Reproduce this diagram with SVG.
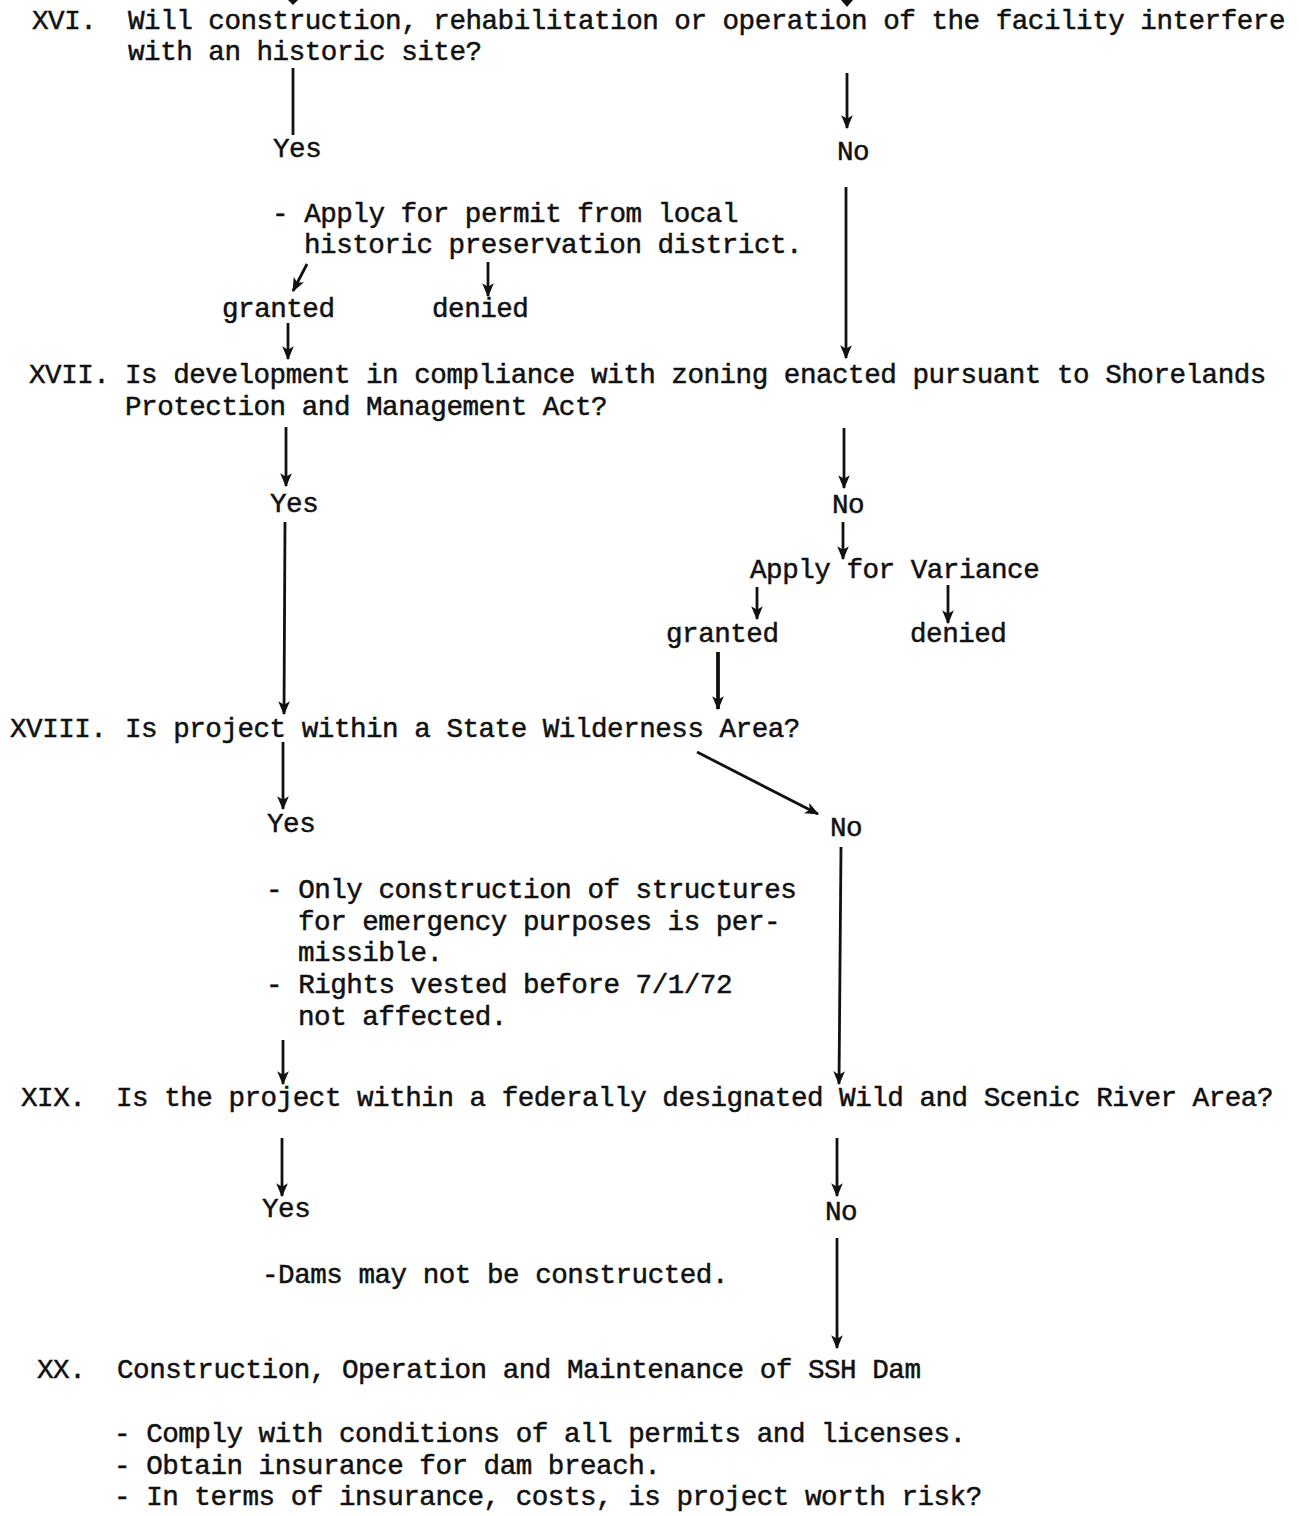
<svg xmlns="http://www.w3.org/2000/svg" width="1299" height="1516" viewBox="0 0 1299 1516">
<style>
text{font-family:"Liberation Mono","Courier New",monospace;font-size:27.6px;letter-spacing:-0.49px;fill:#111;stroke:#111;stroke-width:0.5px;white-space:pre}
.c{fill:none;stroke:#111;stroke-width:2.8px}
.ca{fill:none;stroke:#111;stroke-width:2.8px;marker-end:url(#ah)}
.cb{fill:none;stroke:#111;stroke-width:3.8px;marker-end:url(#ah)}
</style>
<defs>
<marker id="ah" viewBox="0 0 12 10" refX="11" refY="5" markerWidth="14" markerHeight="12" orient="auto" markerUnits="userSpaceOnUse">
<path d="M0,0 L12,5 L0,10 L3,5 z" fill="#111"/>
</marker>
</defs>
<rect width="1299" height="1516" fill="#fff"/>

<g id="connectors">
<polygon points="288,0 298,0 293,5" fill="#111"/>
<polygon points="841,0 853,0 847,7" fill="#111"/>
<line class="c" x1="293" y1="68" x2="293" y2="135"/>
<line class="ca" x1="847" y1="73" x2="847" y2="128"/>
<line class="ca" x1="846" y1="187" x2="846" y2="358"/>
<line class="ca" x1="307" y1="264" x2="293" y2="291"/>
<line class="ca" x1="488" y1="262" x2="488" y2="296"/>
<line class="ca" x1="288" y1="323" x2="288" y2="359"/>
<line class="ca" x1="286" y1="427" x2="286" y2="486"/>
<line class="ca" x1="844" y1="428" x2="844" y2="488"/>
<line class="ca" x1="285" y1="522" x2="284" y2="714"/>
<line class="ca" x1="843" y1="522" x2="843" y2="559"/>
<line class="ca" x1="757" y1="587" x2="757" y2="619"/>
<line class="ca" x1="948" y1="585" x2="948" y2="623"/>
<line class="cb" x1="718" y1="652" x2="718" y2="709"/>
<line class="ca" x1="283" y1="742" x2="283" y2="809"/>
<line class="ca" x1="697" y1="752" x2="818" y2="814"/>
<line class="ca" x1="841" y1="847" x2="839" y2="1084"/>
<line class="ca" x1="283" y1="1040" x2="283" y2="1084"/>
<line class="ca" x1="282" y1="1138" x2="282" y2="1196"/>
<line class="ca" x1="837" y1="1138" x2="837" y2="1196"/>
<line class="ca" x1="837" y1="1238" x2="837" y2="1348"/>
</g>

<g id="q16">
<text x="32" y="29">XVI.</text>
<text x="128" y="29">Will construction, rehabilitation or operation of the facility interfere</text>
<text x="128" y="60">with an historic site?</text>
</g>
<g id="q16-yes"><text x="273" y="157">Yes</text></g>
<g id="q16-no"><text x="837" y="160">No</text></g>
<g id="q16-permit">
<text x="272" y="222">- Apply for permit from local</text>
<text x="304" y="253">historic preservation district.</text>
</g>
<g id="q16-granted"><text x="222" y="317">granted</text></g>
<g id="q16-denied"><text x="432" y="317">denied</text></g>

<g id="q17">
<text x="29" y="383">XVII.</text>
<text x="125" y="383">Is development in compliance with zoning enacted pursuant to Shorelands</text>
<text x="125" y="415">Protection and Management Act?</text>
</g>
<g id="q17-yes"><text x="270" y="512">Yes</text></g>
<g id="q17-no"><text x="832" y="513">No</text></g>
<g id="q17-variance"><text x="750" y="578">Apply for Variance</text></g>
<g id="q17-granted"><text x="666" y="642">granted</text></g>
<g id="q17-denied"><text x="910" y="642">denied</text></g>

<g id="q18">
<text x="10" y="737">XVIII.</text>
<text x="125" y="737">Is project within a State Wilderness Area?</text>
</g>
<g id="q18-yes"><text x="267" y="832">Yes</text></g>
<g id="q18-no"><text x="830" y="836">No</text></g>
<g id="q18-notes">
<text x="266" y="898">- Only construction of structures</text>
<text x="298" y="930">for emergency purposes is per-</text>
<text x="298" y="961">missible.</text>
<text x="266" y="993">- Rights vested before 7/1/72</text>
<text x="298" y="1025">not affected.</text>
</g>

<g id="q19">
<text x="21" y="1106">XIX.</text>
<text x="116" y="1106">Is the project within a federally designated Wild and Scenic River Area?</text>
</g>
<g id="q19-yes"><text x="262" y="1217">Yes</text></g>
<g id="q19-no"><text x="825" y="1220">No</text></g>
<g id="q19-note"><text x="262" y="1283">-Dams may not be constructed.</text></g>

<g id="q20">
<text x="37" y="1378">XX.</text>
<text x="117" y="1378">Construction, Operation and Maintenance of SSH Dam</text>
<text x="114" y="1442">- Comply with conditions of all permits and licenses.</text>
<text x="114" y="1474">- Obtain insurance for dam breach.</text>
<text x="114" y="1505">- In terms of insurance, costs, is project worth risk?</text>
</g>
</svg>
